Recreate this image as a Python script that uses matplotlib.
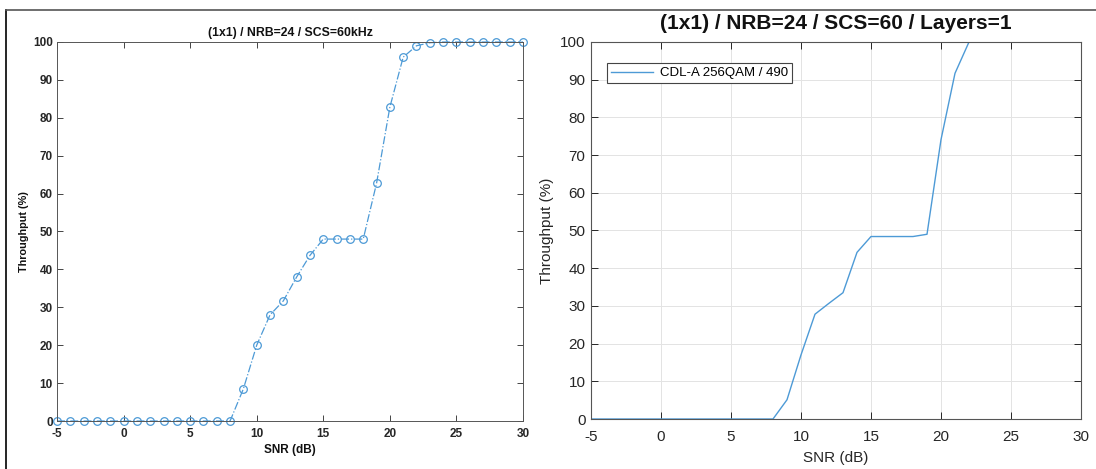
import matplotlib as mpl
mpl.use('Agg')
import matplotlib.pyplot as plt
from matplotlib.lines import Line2D

plt.rcParams['font.family'] = ['Liberation Sans', 'DejaVu Sans']
plt.rcParams['axes.unicode_minus'] = False

# SNR grid (dB)
snr = list(range(-5, 31))

# left panel: throughput with markers
thr_left = [0, 0, 0, 0, 0, 0, 0, 0, 0, 0, 0, 0, 0, 0,
            8.5, 20, 28, 31.7, 38, 43.7, 48, 48, 48, 48,
            62.7, 82.8, 96, 99, 99.8, 100, 100, 100, 100, 100, 100, 100]

# right panel: throughput line
thr_right = [0, 0, 0, 0, 0, 0, 0, 0, 0, 0, 0, 0, 0, 0,
             5.1, 17, 27.8, 30.7, 33.5, 44.2, 48.4, 48.4, 48.4, 48.4,
             49, 74.1, 91.7, 100, 100, 100, 100, 100, 100, 100, 100, 100]

xticks = [-5, 0, 5, 10, 15, 20, 25, 30]
yticks = list(range(0, 101, 10))

W, H = 1096, 469
fig = plt.figure(figsize=(W / 100, H / 100), dpi=100)

def box(x0, y0, x1, y1):
    return [x0 / W, 1 - y1 / H, (x1 - x0) / W, (y1 - y0) / H]

axc = '#262626'
blue = '#4d9ad6'

# left panel
ax1 = fig.add_axes(box(57, 42, 523, 421))
ax1.plot(snr, thr_left, linestyle='-.', color=blue, lw=0.9,
         marker='o', markersize=5.5, markerfacecolor='none',
         markeredgecolor=blue, markeredgewidth=0.9, clip_on=False)
ax1.set_xlim(-5, 30)
ax1.set_ylim(0, 100)
ax1.set_xticks(xticks)
ax1.set_yticks(yticks)
ax1.tick_params(direction='in', length=4, width=0.6, top=True, right=True,
                labelsize=8.5, colors=axc)
ax1.tick_params(axis='x', pad=5)
ax1.tick_params(axis='y', pad=3)
for lab in ax1.get_xticklabels() + ax1.get_yticklabels():
    lab.set_fontweight('bold')
for s in ax1.spines.values():
    s.set_color('#555555')
    s.set_linewidth(0.7)
ax1.set_title('(1x1) / NRB=24 / SCS=60kHz', fontsize=8.8, fontweight='bold',
              color='#111111', pad=4)
ax1.set_xlabel('SNR (dB)', fontsize=8.5, fontweight='bold', color='#111111', labelpad=3)
ax1.set_ylabel('Throughput (%)', fontsize=7.8, fontweight='bold', color='#111111', labelpad=3)

# right panel
ax2 = fig.add_axes(box(591, 42, 1081, 419))
ax2.plot(snr, thr_right, color=blue, lw=1.0, label='CDL-A 256QAM / 490')
ax2.set_xlim(-5, 30)
ax2.set_ylim(0, 100)
ax2.set_xticks(xticks)
ax2.set_yticks(yticks)
ax2.grid(True, color='#e3e3e3', lw=0.7)
ax2.set_axisbelow(True)
ax2.tick_params(direction='in', length=5, width=0.7, top=True, right=True,
                labelsize=11, colors=axc)
ax2.tick_params(axis='x', pad=8)
ax2.tick_params(axis='y', pad=4)
for s in ax2.spines.values():
    s.set_color('#555555')
    s.set_linewidth(0.8)
ax2.set_title('(1x1) / NRB=24 / SCS=60 / Layers=1', fontsize=15, fontweight='bold',
              color='#111111', pad=9)
ax2.set_xlabel('SNR (dB)', fontsize=11, color=axc, labelpad=5)
ax2.set_ylabel('Throughput (%)', fontsize=11, color=axc, labelpad=4)
leg = ax2.legend(loc='upper left', bbox_to_anchor=(0.033, 0.944), borderaxespad=0,
                 fontsize=9.5, fancybox=False, framealpha=1, edgecolor='#444444',
                 handlelength=3.2, borderpad=0.3, handletextpad=0.5)
leg.get_frame().set_linewidth(0.8)

# outer frame of the screenshot
fig.add_artist(Line2D([6 / W, 6 / W], [0, 1 - 10 / H], color='black', lw=1.2,
                      transform=fig.transFigure))
fig.add_artist(Line2D([6 / W, 1], [1 - 10 / H, 1 - 10 / H], color='#555555', lw=1.2,
                      transform=fig.transFigure))

fig.savefig('out.png', dpi=100)
